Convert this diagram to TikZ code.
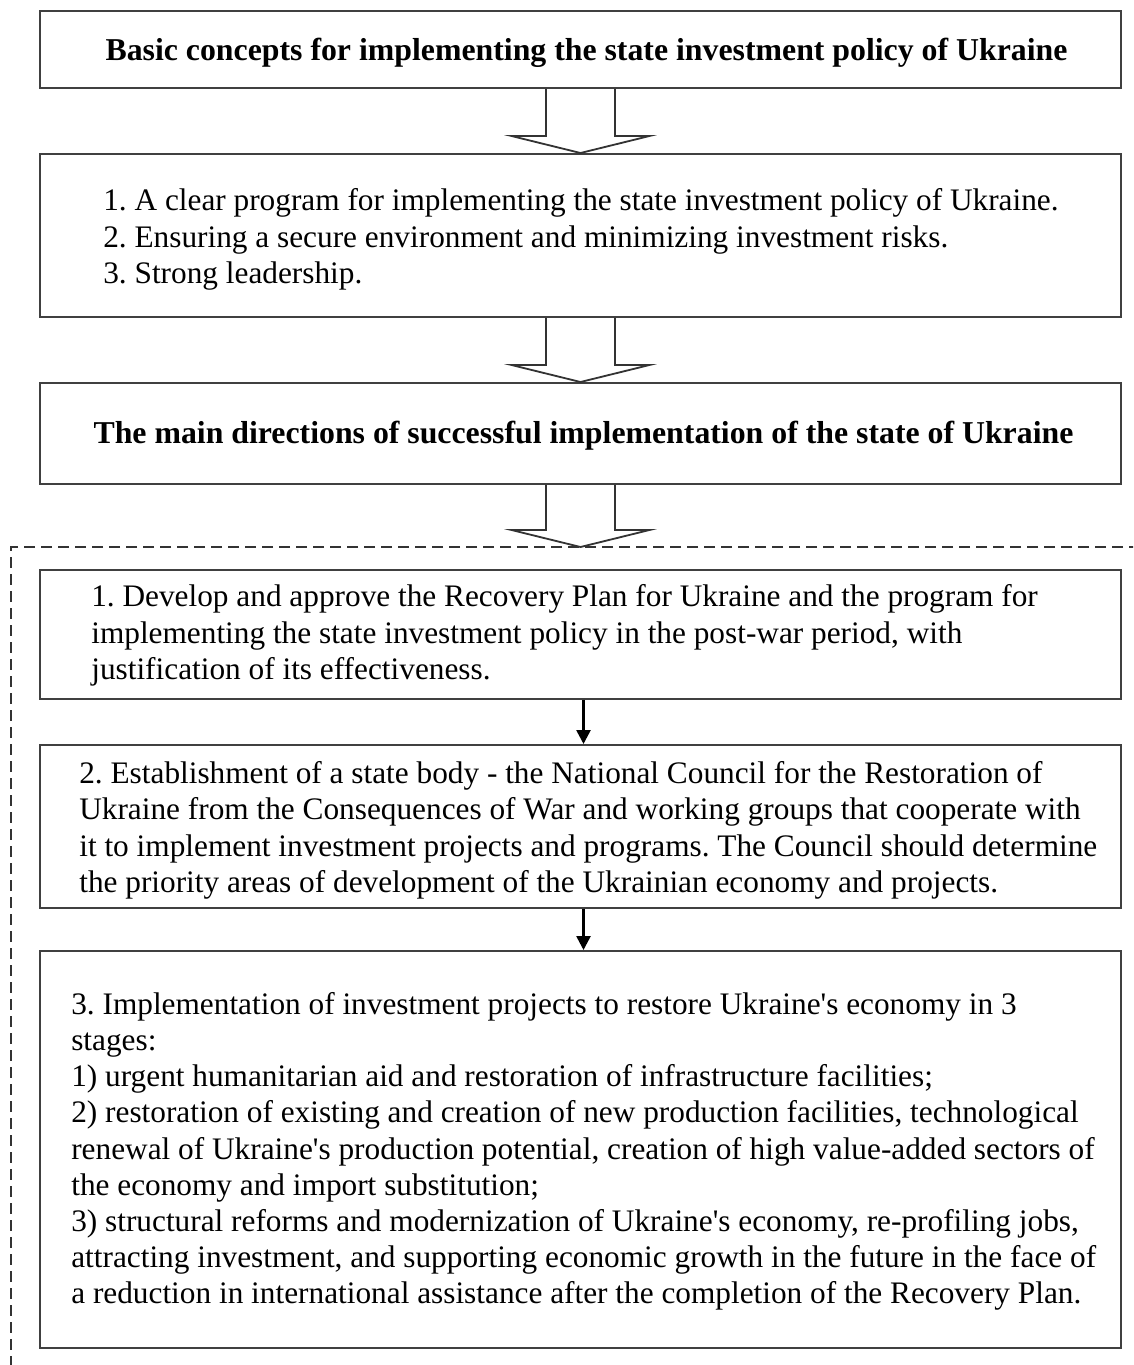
\documentclass[tikz,border=0pt]{standalone}
\usepackage{fontspec}
\setmainfont{Liberation Serif}
\usepackage{tikz}
\usetikzlibrary{arrows.meta, positioning, calc}

\newcommand{\diagfont}{\fontsize{31.3}{36.2}\selectfont\frenchspacing}
% hollow block arrow from the bottom of one box down to a target point
\newcommand{\hollowarrow}[2]{%
  \path (#1.south |- #2) coordinate (tip);
  \draw[bigarrow] ([xshift=-34.5pt]#1.south) -- ([xshift=-34.5pt,yshift=17pt]tip)
       -- ([xshift=-69pt,yshift=17pt]tip) -- (tip) -- ([xshift=69pt,yshift=17pt]tip)
       -- ([xshift=34.5pt,yshift=17pt]tip) -- ([xshift=34.5pt]#1.south);
}

\begin{document}
\begin{tikzpicture}[
    x=1pt, y=-1pt,
    >={Triangle[length=14pt,width=14pt]},
    frame/.style={draw=black!75, line width=1.8pt, minimum width=1081pt, anchor=north, inner sep=0pt, font=\diagfont},
    head/.style={align=center, inner sep=0pt, font=\fontsize{31.8}{36.2}\selectfont\bfseries},
    body/.style={align=left, anchor=west, inner sep=0pt, font=\diagfont},
    bigarrow/.style={draw=black!80, line width=1.8pt, line join=miter},
    link/.style={line width=2.6pt, ->},
    outline/.style={draw=black!80, line width=1.8pt, dash pattern=on 11pt off 6pt},
]
\useasboundingbox (0,0) rectangle (1133,1365);
\clip (0,0) rectangle (1133,1365);
\def\cx{580.5}

% Upper part
\node[frame, minimum height=77pt] (concepts) at (\cx,10) {};
\node[head] (conceptstext) at ([xshift=6pt,yshift=-3pt]concepts.center)
     {Basic concepts for implementing the state investment policy of Ukraine};
\node[frame, minimum height=163pt] (principles) at (\cx,153) {};
\node[body] (principlestext) at ([xshift=64pt,yshift=-4pt]principles.west)
     {1. A clear program for implementing the state investment policy of Ukraine.\\
      2. Ensuring a secure environment and minimizing investment risks.\\
      3. Strong leadership.};
\node[frame, minimum height=101pt] (directions) at (\cx,382) {};
\node[head] (directionstext) at ([xshift=3pt,yshift=-2pt]directions.center)
     {The main directions of successful implementation of the state of Ukraine};

% Dashed frame round the steps
\coordinate (frametop) at (\cx,547);
\draw[outline] (1140,547) -- (11,547) -- (11,1372);

% Steps
\node[frame, minimum height=129pt] (step1) at (\cx,569) {};
\node[body] (step1text) at ([xshift=52pt,yshift=-1pt]step1.west)
     {1. Develop and approve the Recovery Plan for Ukraine and the program for\\
      implementing the state investment policy in the post-war period, with\\
      justification of its effectiveness.};
\node[frame, minimum height=163pt] (step2) at (\cx,744) {};
\node[body] (step2text) at ([xshift=40pt,yshift=-4pt]step2.west)
     {2. Establishment of a state body - the National Council for the Restoration of\\
      Ukraine from the Consequences of War and working groups that cooperate with\\
      it to implement investment projects and programs. The Council should determine\\
      the priority areas of development of the Ukrainian economy and projects.};
\node[frame, minimum height=397pt] (step3) at (\cx,950) {};
\node[body] (step3text) at ([xshift=32pt,yshift=-2pt]step3.west)
     {3. Implementation of investment projects to restore Ukraine\textquotesingle s economy in 3\\
      stages:\\
      1) urgent humanitarian aid and restoration of infrastructure facilities;\\
      2) restoration of existing and creation of new production facilities, technological\\
      renewal of Ukraine\textquotesingle s production potential, creation of high value-added sectors of\\
      the economy and import substitution;\\
      3) structural reforms and modernization of Ukraine\textquotesingle s economy, re-profiling jobs,\\
      attracting investment, and supporting economic growth in the future in the face of\\
      a reduction in international assistance after the completion of the Recovery Plan.};

% Arrows
\hollowarrow{concepts}{principles.north}
\hollowarrow{principles}{directions.north}
\hollowarrow{directions}{frametop}
\draw[link] ([xshift=3pt]step1.south) -- ([xshift=3pt]step2.north);
\draw[link] ([xshift=3pt]step2.south) -- ([xshift=3pt]step3.north);

\end{tikzpicture}
\end{document}
